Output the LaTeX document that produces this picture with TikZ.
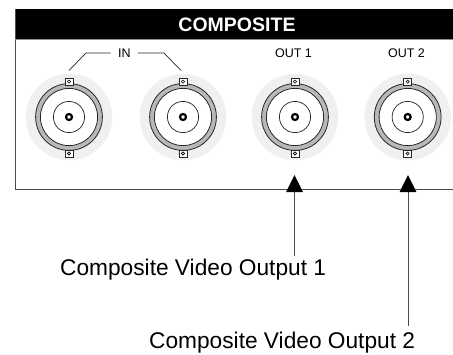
\documentclass[tikz,border=0pt]{standalone}
\usepackage{fontspec}
\setmainfont{Liberation Sans}
\usetikzlibrary{arrows.meta}
\definecolor{halo}{gray}{0.94}
\definecolor{ringgrey}{gray}{0.72}
\tikzset{
  x=1pt,y=-1pt,
  lbl/.style={inner sep=0pt,font=\fontsize{12.5}{14}\selectfont},
  callout/.style={inner sep=0pt,font=\fontsize{22.7}{26}\selectfont},
  thinline/.style={line width=0.7pt,black!85},
  bigarrow/.style={line width=1pt,black!70,-{Triangle[length=17pt,width=16.5pt,black]}},
}
\newcommand{\bnc}[2]{%
  \begin{scope}[shift={(#1,#2)}]
    \fill[halo] (0,0) circle (43.3);
    \draw[line width=0.8pt,black!85,fill=ringgrey] (0,0) circle (33.4);
    \draw[line width=0.8pt,black!85,fill=white] (0,0) circle (28.6);
    \draw[line width=0.7pt,black!85] (0,0) circle (15.6);
    \draw[line width=2.2pt,fill=white] (0,0) circle (3);
    \draw[line width=0.7pt,black!85,fill=white] (-4,-39) rectangle (4,-31.8);
    \draw[line width=0.7pt,black!85,fill=white] (-4,33) rectangle (4,40);
    \draw[line width=0.6pt] (0,-35.4) circle (1.6);
    \draw[line width=0.6pt] (0,36.5) circle (1.6);
  \end{scope}}
\begin{document}
\begin{tikzpicture}
\useasboundingbox (0,0) rectangle (453,354);
\fill[black] (15,9.3) rectangle (453,38.5);
\draw[line width=0.8pt,black!70] (15,9.3) -- (15,189.3) -- (453,189.3);
\draw[line width=0.7pt,black!45] (15,39) -- (453,39);
\node[inner sep=0pt,text=white,font=\bfseries\fontsize{19.5}{22}\selectfont] (title) at (237,24.3) {COMPOSITE};
\bnc{69}{117}
\bnc{183}{117}
\bnc{295}{117}
\bnc{407.7}{117}
\node[lbl] (in) at (124.3,52.8) {IN};
\node[lbl] (out1) at (293.5,52.8) {OUT 1};
\node[lbl] (out2) at (406.5,52.8) {OUT 2};
\coordinate (a1) at (69,70.5);
\coordinate (a2) at (181,70.5);
\draw[thinline] (110.7,53) -- (86,53) -- (a1);
\draw[thinline] (137.7,53) -- (164,53) -- (a2);
\node[callout,anchor=west] (c1) at (60,269.5) {Composite Video Output 1};
\node[callout,anchor=west] (c2) at (149,342.5) {Composite Video Output 2};
\coordinate (t1) at (294.5,175);
\coordinate (t2) at (408,175);
\draw[bigarrow] (294.5,256) -- (t1);
\draw[bigarrow] (408,325.5) -- (t2);
\end{tikzpicture}
\end{document}
